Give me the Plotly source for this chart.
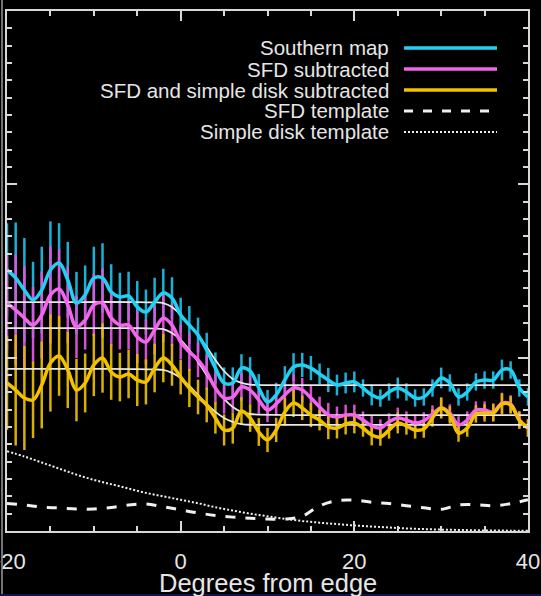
import plotly.graph_objects as go

# Angular distance from the edge (degrees), one sample per degree
deg = list(range(-20, 41))

southern_map = [
    1.506, 1.460, 1.390, 1.333, 1.390, 1.506, 1.546, 1.448, 1.315, 1.362,
    1.460, 1.460, 1.379, 1.350, 1.356, 1.292, 1.263, 1.321, 1.373, 1.344,
    1.246, 1.188, 1.131, 1.044, 0.940, 0.854, 0.854, 0.940, 0.923, 0.825,
    0.744, 0.785, 0.871, 0.946, 0.958, 0.940, 0.906, 0.871, 0.842, 0.854,
    0.860, 0.825, 0.785, 0.767, 0.802, 0.825, 0.802, 0.767, 0.773, 0.825,
    0.883, 0.854, 0.773, 0.802, 0.860, 0.871, 0.871, 0.929, 0.929, 0.825,
    0.773,
]
sfd_subtracted = [
    1.315, 1.275, 1.229, 1.188, 1.246, 1.362, 1.396, 1.304, 1.177, 1.217,
    1.304, 1.315, 1.229, 1.188, 1.188, 1.119, 1.090, 1.160, 1.229, 1.188,
    1.090, 1.033, 0.987, 0.917, 0.825, 0.767, 0.773, 0.831, 0.813, 0.756,
    0.698, 0.733, 0.785, 0.825, 0.813, 0.767, 0.715, 0.669, 0.658, 0.669,
    0.669, 0.640, 0.606, 0.594, 0.629, 0.652, 0.640, 0.623, 0.635, 0.675,
    0.710, 0.681, 0.612, 0.640, 0.698, 0.698, 0.687, 0.738, 0.733, 0.640,
    0.594,
]
sfd_disk_subtracted = [
    0.854, 0.813, 0.767, 0.756, 0.842, 0.969, 1.010, 0.929, 0.813, 0.854,
    0.958, 0.998, 0.917, 0.888, 0.906, 0.871, 0.860, 0.940, 0.998, 0.958,
    0.888, 0.825, 0.773, 0.727, 0.652, 0.583, 0.594, 0.692, 0.652, 0.571,
    0.525, 0.583, 0.687, 0.738, 0.710, 0.669, 0.640, 0.600, 0.594, 0.617,
    0.623, 0.594, 0.554, 0.542, 0.583, 0.623, 0.606, 0.583, 0.588, 0.652,
    0.710, 0.669, 0.565, 0.594, 0.675, 0.681, 0.681, 0.733, 0.727, 0.640,
    0.594,
]
# 1-sigma uncertainty per sample
sigma = [
    0.27, 0.32, 0.30, 0.22, 0.25, 0.28, 0.23, 0.22, 0.18, 0.17,
    0.18, 0.20, 0.16, 0.14, 0.14, 0.15, 0.13, 0.14, 0.14, 0.12,
    0.10, 0.11, 0.10, 0.10, 0.09, 0.09, 0.09, 0.08, 0.08, 0.08,
    0.07, 0.07, 0.08, 0.08, 0.07, 0.07, 0.06, 0.07, 0.06, 0.06,
    0.06, 0.05, 0.06, 0.05, 0.05, 0.06, 0.05, 0.05, 0.05, 0.05,
    0.06, 0.05, 0.05, 0.05, 0.05, 0.05, 0.05, 0.06, 0.05, 0.05,
    0.05,
]

# Smoothed step fits to each profile
fit_deg = [-20, -12, -5, -3, -2, -1, 0, 1, 2, 3, 4, 5, 6, 7, 8, 12, 40]
southern_fit = [1.321, 1.321, 1.321, 1.319, 1.315, 1.292, 1.246, 1.188, 1.131,
                1.062, 0.987, 0.923, 0.877, 0.854, 0.844, 0.842, 0.842]
sfd_fit = [1.171, 1.171, 1.170, 1.168, 1.165, 1.142, 1.102, 1.044, 0.975,
           0.900, 0.825, 0.762, 0.715, 0.687, 0.675, 0.669, 0.669]
sfd_disk_fit = [0.935, 0.935, 0.934, 0.932, 0.929, 0.912, 0.883, 0.837, 0.785,
                0.733, 0.687, 0.652, 0.629, 0.617, 0.613, 0.612, 0.612]

# Foreground templates
tmpl_deg = list(range(-20, 41, 2))
sfd_template = [
    0.159, 0.150, 0.138, 0.133, 0.127, 0.127, 0.136, 0.150, 0.156, 0.140,
    0.122, 0.104, 0.090, 0.080, 0.073, 0.069, 0.069, 0.085, 0.145, 0.175,
    0.178, 0.166, 0.158, 0.146, 0.134, 0.125, 0.150, 0.152, 0.146, 0.158,
    0.181,
]
disk_template = [
    0.460, 0.430, 0.395, 0.360, 0.325, 0.295, 0.270, 0.245, 0.220, 0.200,
    0.180, 0.160, 0.137, 0.118, 0.100, 0.085, 0.070, 0.058, 0.048, 0.040,
    0.032, 0.026, 0.020, 0.015, 0.011, 0.008, 0.006, 0.004, 0.003, 0.002,
    0.002,
]

series_names = ["Southern map", "SFD subtracted", "SFD and simple disk subtracted"]
line_colors = ["#22d0f2", "#f266ee", "#f2c200"]
bar_colors = ["rgba(30,185,225,0.95)", "rgba(225,85,220,0.95)", "rgba(230,185,0,0.95)"]
template_names = ["SFD template", "Simple disk template"]
x_title = "Degrees from edge"

profiles = [southern_map, sfd_subtracted, sfd_disk_subtracted]
fits = [southern_fit, sfd_fit, sfd_disk_fit]

fig = go.Figure()

# error bars first
for prof, bc in zip(profiles, bar_colors):
    fig.add_trace(go.Scatter(
        x=deg, y=prof, mode="markers", marker=dict(size=0.1, color=bc),
        error_y=dict(type="data", array=sigma, color=bc, thickness=2.5, width=0),
        showlegend=False, hoverinfo="skip"))

# white fitted curves
for f in fits:
    fig.add_trace(go.Scatter(
        x=fit_deg, y=f, mode="lines", line=dict(color="#e8e8e8", width=1.8, shape="spline", smoothing=0.8),
        showlegend=False, hoverinfo="skip"))

# measured profiles
for prof, lc, nm in zip(profiles, line_colors, series_names):
    fig.add_trace(go.Scatter(
        x=deg, y=prof, mode="lines", name=nm,
        line=dict(color=lc, width=3.5, shape="spline", smoothing=1.0),
        showlegend=False))

# templates
fig.add_trace(go.Scatter(x=tmpl_deg, y=sfd_template, mode="lines", name=template_names[0],
                         line=dict(color="#f0f0f0", width=3, dash="10px,10px", shape="spline"),
                         showlegend=False))
fig.add_trace(go.Scatter(x=tmpl_deg, y=disk_template, mode="lines", name=template_names[1],
                         line=dict(color="#f0f0f0", width=2, dash="2px,2px", shape="spline"),
                         showlegend=False))

W, H = 541, 596
L, R, T, B = 7, 13, 11, 65
pw, ph = W - L - R, H - T - B

def px_x(p):
    return (p - L) / pw

def px_y(p):
    return (H - B - p) / ph

font_family = "Liberation Sans, Arial, sans-serif"

# hand-built key: right-aligned label, sample line to its right
key_labels = series_names + template_names
key_styles = [
    dict(color=line_colors[0], width=3.5),
    dict(color=line_colors[1], width=3.5),
    dict(color=line_colors[2], width=3.5),
    dict(color="#f0f0f0", width=3, dash="9px,10px"),
    dict(color="#f0f0f0", width=2, dash="2px,2px"),
]
row_y = [48, 69, 90, 111, 132]
shapes = []
annotations = []
for lab, st, ry in zip(key_labels, key_styles, row_y):
    annotations.append(dict(
        x=px_x(391), y=px_y(ry), xref="paper", yref="paper", text=lab,
        showarrow=False, xanchor="right", yanchor="middle",
        font=dict(family=font_family, size=20.5, color="#e6e6e6")))
    shapes.append(dict(type="line", xref="paper", yref="paper",
                       x0=px_x(404), x1=px_x(497), y0=px_y(ry), y1=px_y(ry), line=st))

# x-axis title, set just under the tick labels
annotations.append(dict(
    x=px_x(268), y=px_y(583), xref="paper", yref="paper", text=x_title,
    showarrow=False, xanchor="center", yanchor="middle",
    font=dict(family=font_family, size=25.5, color="#e6e6e6")))

# page border strokes
shapes.append(dict(type="line", xref="paper", yref="paper",
                   x0=px_x(2), x1=px_x(2), y0=px_y(0), y1=px_y(H), line=dict(color="#9a9a9a", width=1.5)))
shapes.append(dict(type="line", xref="paper", yref="paper",
                   x0=px_x(0), x1=px_x(W), y0=px_y(595), y1=px_y(595), line=dict(color="#0c1450", width=2)))

axis_font = dict(family=font_family, size=22, color="#e6e6e6")

fig.update_layout(
    width=W, height=H,
    margin=dict(l=L, r=R, t=T, b=B, pad=0, autoexpand=False),
    paper_bgcolor="black", plot_bgcolor="black",
    showlegend=False,
    shapes=shapes, annotations=annotations,
    xaxis=dict(
        range=[-20, 40], showgrid=False, zeroline=False, automargin=False,
        showline=True, linecolor="#d8d8d8", linewidth=2, mirror="ticks",
        ticks="inside", tickcolor="#d8d8d8", tickwidth=2, ticklen=10,
        tickmode="linear", tick0=-20, dtick=20, ticklabeloverflow="allow",
        minor=dict(ticks="inside", dtick=5, ticklen=5, tickcolor="#d8d8d8", tickwidth=2, showgrid=False),
        tickfont=axis_font, ticklabelstandoff=10,
    ),
    yaxis=dict(
        range=[0, 3], showgrid=False, zeroline=False, automargin=False,
        showline=True, linecolor="#d8d8d8", linewidth=2, mirror="ticks",
        ticks="inside", tickcolor="#d8d8d8", tickwidth=2, ticklen=10,
        tickmode="linear", tick0=0, dtick=1, showticklabels=False,
        minor=dict(ticks="inside", dtick=0.1, ticklen=5, tickcolor="#d8d8d8", tickwidth=2, showgrid=False),
    ),
)

fig.write_html("out.html")
